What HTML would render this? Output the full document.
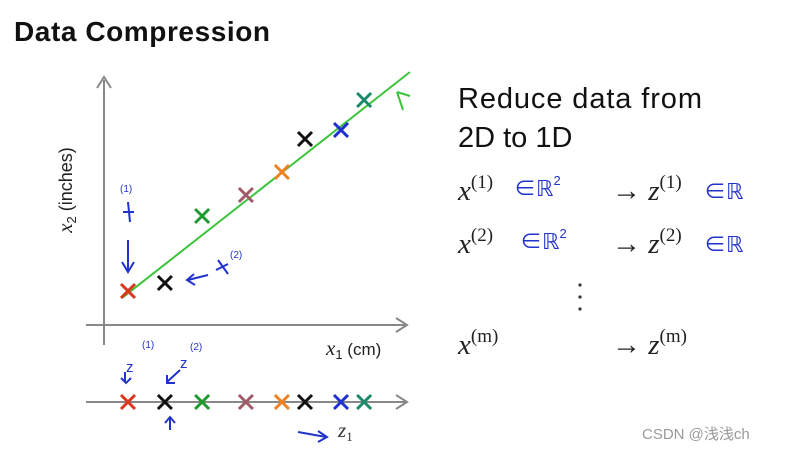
<!DOCTYPE html>
<html><head><meta charset="utf-8"><style>
body{margin:0;width:793px;height:451px;background:#fff;overflow:hidden;font-family:"Liberation Sans","Noto Sans CJK SC",sans-serif}
svg{position:absolute;left:0;top:0}
</style></head><body>
<svg id="c" width="793" height="451">
<text x="14" y="41" font-size="28" font-weight="bold" fill="#111" textLength="256">Data Compression</text>
<line x1="104" y1="345" x2="104" y2="80" stroke="#888" stroke-width="2"/>
<path d="M97 88 L104 77 L111 88" fill="none" stroke="#888" stroke-width="2"/>
<line x1="86" y1="325" x2="405" y2="325" stroke="#888" stroke-width="2"/>
<path d="M396 318 L407 325 L396 332" fill="none" stroke="#888" stroke-width="2"/>
<text transform="translate(72,190) rotate(-90)" text-anchor="middle" font-size="18" fill="#222"><tspan font-family="Liberation Serif,serif" font-style="italic" font-size="21">x</tspan><tspan font-size="13" dy="4">2</tspan><tspan dy="-4"> (inches)</tspan></text>
<text x="326" y="355" font-size="17" fill="#222"><tspan font-family="Liberation Serif,serif" font-style="italic" font-size="21">x</tspan><tspan font-size="13" dy="4">1</tspan><tspan dy="-4"> (cm)</tspan></text>
<line x1="86" y1="402" x2="405" y2="402" stroke="#888" stroke-width="2"/>
<path d="M396 395 L407 402 L396 409" fill="none" stroke="#888" stroke-width="2"/>
<text x="338" y="437" font-size="21" font-family="Liberation Serif,serif" font-style="italic" fill="#333">z<tspan font-style="normal" font-size="13" dy="4">1</tspan></text>
<path d="M298 432 L326 437 M318 431 L327 437 L318 442" stroke="#2233cc" stroke-width="2" fill="none"/>
<g stroke="#2233cc" stroke-width="2" fill="none">
<path d="M128 240 L128 270 M122 262 L128 272 L134 262"/>
<path d="M123 212 L134 212 M128 202 L130 222"/>
<path d="M188 280 L208 275 M194 274 L187 280 L195 285"/>
<path d="M216 270 L228 264 M218 260 L228 274"/>
<path d="M125 372 L125 382 M121 378 L126 383 L131 378"/>
<path d="M180 370 L167 382 M167 375 L167 383 L175 383"/>
<path d="M170 430 L170 418 M165 423 L170 417 L175 423"/>
</g>
<g font-size="10" fill="#2233cc"><text x="120" y="192">(1)</text><text x="230" y="258">(2)</text><text x="142" y="348">(1)</text><text x="190" y="350">(2)</text></g>
<text x="126" y="372" font-size="15" fill="#2233cc">z</text><text x="180" y="368" font-size="15" fill="#2233cc">z</text>
<path d="M397 92 L403 110 M397 92 L410 96" stroke="#3cc43c" stroke-width="2" fill="none"/>
<text x="458" y="108" font-size="29" fill="#111" textLength="244">Reduce data from</text>
<text x="458" y="147" font-size="29" fill="#111">2D to 1D</text>
<g font-family="Liberation Serif,serif" font-size="29" fill="#222">
<text x="458" y="200"><tspan font-style="italic">x</tspan><tspan font-size="19" dy="-12">(1)</tspan></text>
<text x="612" y="200">→ <tspan font-style="italic">z</tspan><tspan font-size="19" dy="-12">(1)</tspan></text>
<text x="458" y="253"><tspan font-style="italic">x</tspan><tspan font-size="19" dy="-12">(2)</tspan></text>
<text x="612" y="253">→ <tspan font-style="italic">z</tspan><tspan font-size="19" dy="-12">(2)</tspan></text>
<text x="458" y="354"><tspan font-style="italic">x</tspan><tspan font-size="19" dy="-12">(m)</tspan></text>
<text x="612" y="354">→ <tspan font-style="italic">z</tspan><tspan font-size="19" dy="-12">(m)</tspan></text>
</g>
<g fill="#333"><circle cx="580" cy="285" r="1.6"/><circle cx="580" cy="297" r="1.6"/><circle cx="580" cy="309" r="1.6"/></g>
<g font-size="22" fill="#2233cc">
<text x="514" y="196">∈ℝ<tspan font-size="13" dy="-11">2</tspan></text>
<text x="520" y="249">∈ℝ<tspan font-size="13" dy="-11">2</tspan></text>
<text x="704" y="199">∈ℝ</text>
<text x="704" y="252">∈ℝ</text>
</g>
<text x="642" y="439" font-size="15" fill="#999">CSDN @浅浅ch</text>
</svg>
<script>
const xs=[0.8,2.03,3.27,4.73,5.93,6.7,7.9,8.67];
const ys=[1.36,1.68,4.36,5.2,6.12,7.44,7.8,9.0];
const colors=['#d9381e','#111','#1f9a2e','#a05a6a','#f08020','#111','#1f2fd0','#1a8a6a'];
const lineX=[0.6,10.2];
const lineY=[1.08,10.12];
const sx=v=>104+v*30, sy=v=>325-v*25;
const svg=document.getElementById('c'),NS='http://www.w3.org/2000/svg';
const ln=document.createElementNS(NS,'line');
ln.setAttribute('x1',sx(lineX[0]));ln.setAttribute('y1',sy(lineY[0]));ln.setAttribute('x2',sx(lineX[1]));ln.setAttribute('y2',sy(lineY[1]));
ln.setAttribute('stroke','#3cc43c');ln.setAttribute('stroke-width','2');


svg.appendChild(ln);
function cross(cx,cy,col){const p=document.createElementNS(NS,'path');
p.setAttribute('d',`M${cx-7} ${cy-7}L${cx+7} ${cy+7}M${cx+7} ${cy-7}L${cx-7} ${cy+7}`);
p.setAttribute('stroke',col);p.setAttribute('stroke-width','3');svg.appendChild(p);return p;}
xs.forEach((x,i)=>{
const a=cross(sx(x),sy(ys[i]),colors[i]);


const b=cross(sx(x),402,colors[i]);


});
</script>
</body></html>
